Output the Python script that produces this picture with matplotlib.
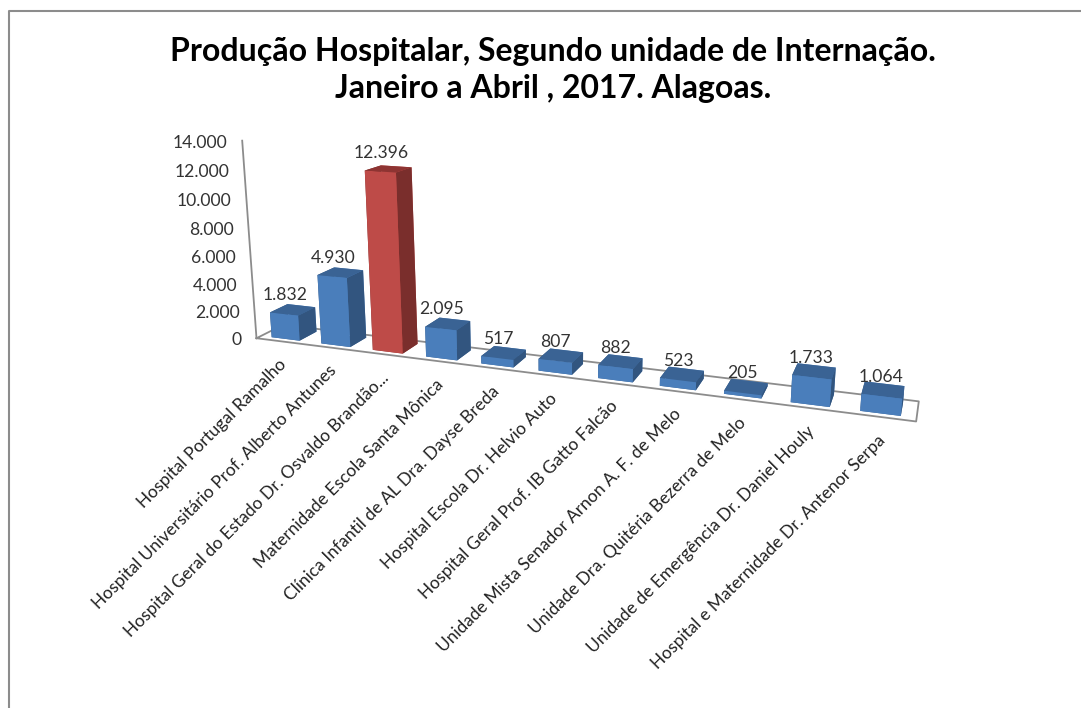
import numpy as np
import matplotlib
matplotlib.use('Agg')
import matplotlib.pyplot as plt
from matplotlib.lines import Line2D
from mpl_toolkits.mplot3d import proj3d

categories = ["Hospital Portugal Ramalho", "Hospital Universitário Prof. Alberto Antunes",
              "Hospital Geral do Estado Dr. Osvaldo Brandão...", "Maternidade Escola Santa Mônica",
              "Clínica Infantil de AL Dra. Dayse Breda", "Hospital Escola Dr. Helvio Auto",
              "Hospital Geral Prof. IB Gatto Falcão", "Unidade Mista Senador Arnon A. F. de Melo",
              "Unidade Dra. Quitéria Bezerra de Melo", "Unidade de Emergência Dr. Daniel Houly",
              "Hospital e Maternidade Dr. Antenor Serpa"]
values = [1832, 4930, 12396, 2095, 517, 807, 882, 523, 205, 1733, 1064]
yticks = [0, 2000, 4000, 6000, 8000, 10000, 12000, 14000]
title = "Produção Hospitalar, Segundo unidade de Internação.\nJaneiro a Abril , 2017. Alagoas."

W, H = 1081, 708
plt.rcParams['font.family'] = ['Lato', 'DejaVu Sans']
fig = plt.figure(figsize=(W/100, H/100), dpi=100)
ax = fig.add_axes([0, 0, 1, 1], projection='3d', computed_zorder=False)
ax.set_xlim(0, 11); ax.set_ylim(0, 1); ax.set_zlim(0, 14000)

ax.view_init(14.4918, -70.1266)
ax.set_proj_type('persp', focal_length=np.exp(-1.2461))
ax.set_box_aspect((1, np.exp(-2.5995), np.exp(-1.1567)))
s, cx, cy, g_, gy_ = 3850.8142, 561.0034, 263.5090, 0.2167, 0.1693
x0, x1 = ax.viewLim.intervalx
y0, y1 = ax.viewLim.intervaly
ax.set_position([(cx+s*x0)/W, (H-cy+s*y0)/H, s*(x1-x0)/W, s*(y1-y0)/H])
ax.set_axis_off()
ax.patch.set_alpha(0)
M = ax.get_proj()

GRID = '#8c8c8c'
ax.plot([0,11,11,0,0],[0,0,1,1,0],[0,0,0,0,0],color=GRID,lw=1.3,zorder=1,clip_on=False)
ax.plot([0,0],[0,0],[0,14000],color=GRID,lw=1.3,zorder=1,clip_on=False)
for i, v in enumerate(values):
    red = i == 2
    fc, tc, sc = ('#BE4B48','#8E3432','#7A2E2C') if red else ('#4A7EBB','#3A6394','#32557F')
    bar = ax.bar3d(i+g_, gy_, 0, 1-2*g_, 1-2*gy_, v, color=[tc,tc,fc,fc,sc,sc], shade=False, zorder=5+i, linewidth=0)
    bar.set_clip_on(False)

def anc(x,y,z):
    tx,ty,_ = proj3d.proj_transform(x,y,z,M)
    return (tx,ty)
TXT='#333333'
for i,v in enumerate(values):
    ax.annotate(f"{v:,}".replace(',','.'), anc(i+.5,.25,v), xytext=(-1,10), textcoords='offset pixels', ha='center', va='bottom',
                fontsize=12.6, color=TXT, annotation_clip=False, zorder=50)
for t in yticks:
    ax.annotate(f"{t:,}".replace(',','.'), anc(0,0,t), xytext=(-15,-2), textcoords='offset pixels', ha='right', va='center',
                fontsize=12.6, color=TXT, annotation_clip=False, zorder=50)
for i,c_ in enumerate(categories):
    ax.annotate(c_, anc(i+.5,0,0), xytext=(-3,-15), textcoords='offset pixels', ha='right', va='top', rotation=45, rotation_mode='anchor',
                fontsize=12.5, color='#222222', annotation_clip=False, zorder=50)
fig.text(553/W, 1-70/H, title, ha='center', va='center', fontsize=23, fontweight='bold', color='black', linespacing=1.3)
fig.add_artist(Line2D([8.5/W,8.5/W,1],[0,1-11/H,1-11/H],color='#8c8c8c',lw=1.5))
fig.savefig('out.png', dpi=100, facecolor='white')
